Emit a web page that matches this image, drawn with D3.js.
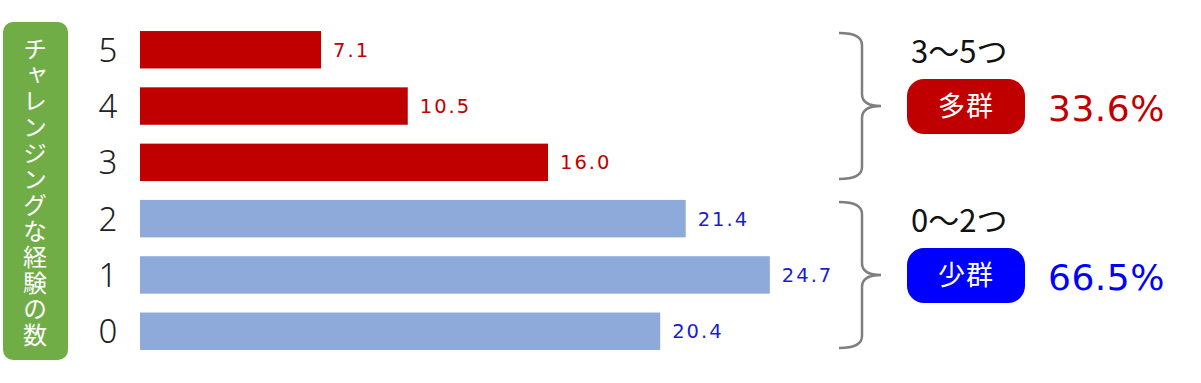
<!DOCTYPE html>
<html><head><meta charset="utf-8">
<script src="https://cdn.jsdelivr.net/npm/d3@7"></script>
<style>
html,body{margin:0;padding:0;background:#fff;}
svg{display:block;}
</style></head>
<body>
<svg id="c" width="1201" height="383"></svg>
<script>
const categories = ["5","4","3","2","1","0"];
const values = [7.1, 10.5, 16.0, 21.4, 24.7, 20.4];
const groupOf = ["多","多","多","少","少","少"];
const axisTitle = "チャレンジングな経験の数";
const groupRanges = ["3～5つ", "0～2つ"];
const groupNames = ["多群", "少群"];
const groupShares = ["33.6%", "66.5%"];
const groupCats = [["5","3"], ["2","0"]];

const barColor = {"多":"#c00000","少":"#8eaadb"};
const labelColor = {"多":"#c00000","少":"#1c1cd6"};
const pillColors = ["#c00000","#0000ff"];
const shareColors = ["#c00000","#0000ff"];

const svg = d3.select("#c");
const x = d3.scaleLinear().domain([0,30]).range([140, 140+30*25.5]);
const y = d3.scaleBand().domain(categories).range([21.6, 359.4]).paddingInner(0.335).paddingOuter(0.1675);

// green title box
svg.append("rect").attr("x",3).attr("y",22).attr("width",65).attr("height",338)
  .attr("rx",10).attr("fill","#70ad47");
svg.append("text").attr("x",35).attr("y",193)
  .style("writing-mode","vertical-rl")
  .attr("text-anchor","middle")
  .attr("fill","#fff").attr("font-family","'Noto Sans CJK JP'").attr("font-size",24)
  .attr("letter-spacing",2)
  .text(axisTitle);

// y axis
const yAxis = d3.axisLeft(y).tickSize(0).tickPadding(0);
const ga = svg.append("g").attr("transform","translate(120,0)").call(yAxis);
ga.select(".domain").remove();
ga.selectAll("text").attr("font-family","'Noto Sans', sans-serif").attr("font-size",33)
  .attr("font-weight",300).attr("fill","#222").attr("text-anchor","middle").attr("dx",-12).attr("dy","0.36em");

// bars
svg.selectAll("rect.bar").data(categories).enter().append("rect").attr("class","bar")
  .attr("x",x(0)).attr("y",d=>y(d)).attr("height",y.bandwidth())
  .attr("width",(d,i)=>x(values[i])-x(0))
  .attr("fill",(d,i)=>barColor[groupOf[i]]);

// value labels
svg.selectAll("text.val").data(categories).enter().append("text").attr("class","val")
  .attr("x",(d,i)=>x(values[i])+12).attr("y",d=>y(d)+y.bandwidth()/2).attr("dy","0.36em")
  .attr("font-family","'DejaVu Sans', sans-serif").attr("font-size",19.5).attr("letter-spacing",2)
  .attr("fill",(d,i)=>labelColor[groupOf[i]])
  .text((d,i)=>values[i].toFixed(1));

// braces and group labels
groupCats.forEach((gc,k)=>{
  const top = y(gc[0]) + 2;
  const bot = y(gc[1]) + y.bandwidth() - 2;
  const mid = (top+bot)/2;
  const x0 = 839, x1 = 862, x2 = 881, r = 12;
  const p = `M${x0},${top} Q${x1},${top} ${x1},${top+r} L${x1},${mid-r} Q${x1},${mid} ${x2},${mid} Q${x1},${mid} ${x1},${mid+r} L${x1},${bot-r} Q${x1},${bot} ${x0},${bot}`;
  svg.append("path").attr("d",p).attr("fill","none").attr("stroke","#7f7f7f").attr("stroke-width",2.5);

  svg.append("text").attr("x",911).attr("y",top+30)
    .attr("font-family","'Noto Sans CJK JP'").attr("font-size",31).attr("fill","#111")
    .text(groupRanges[k]);
  const py = mid-27;
  svg.append("rect").attr("x",907).attr("y",py).attr("width",118).attr("height",55).attr("rx",17)
    .attr("fill",pillColors[k]);
  svg.append("text").attr("x",966).attr("y",py+27.5).attr("dy","0.36em").attr("text-anchor","middle")
    .attr("font-family","'Noto Sans CJK JP'").attr("font-size",27).attr("fill","#fff").attr("letter-spacing",1)
    .text(groupNames[k]);
  svg.append("text").attr("x",1048).attr("y",py+42)
    .attr("font-family","'DejaVu Sans', sans-serif").attr("font-size",36).attr("letter-spacing",0.5)
    .attr("fill",shareColors[k]).text(groupShares[k]);
});
</script>
</body></html>
